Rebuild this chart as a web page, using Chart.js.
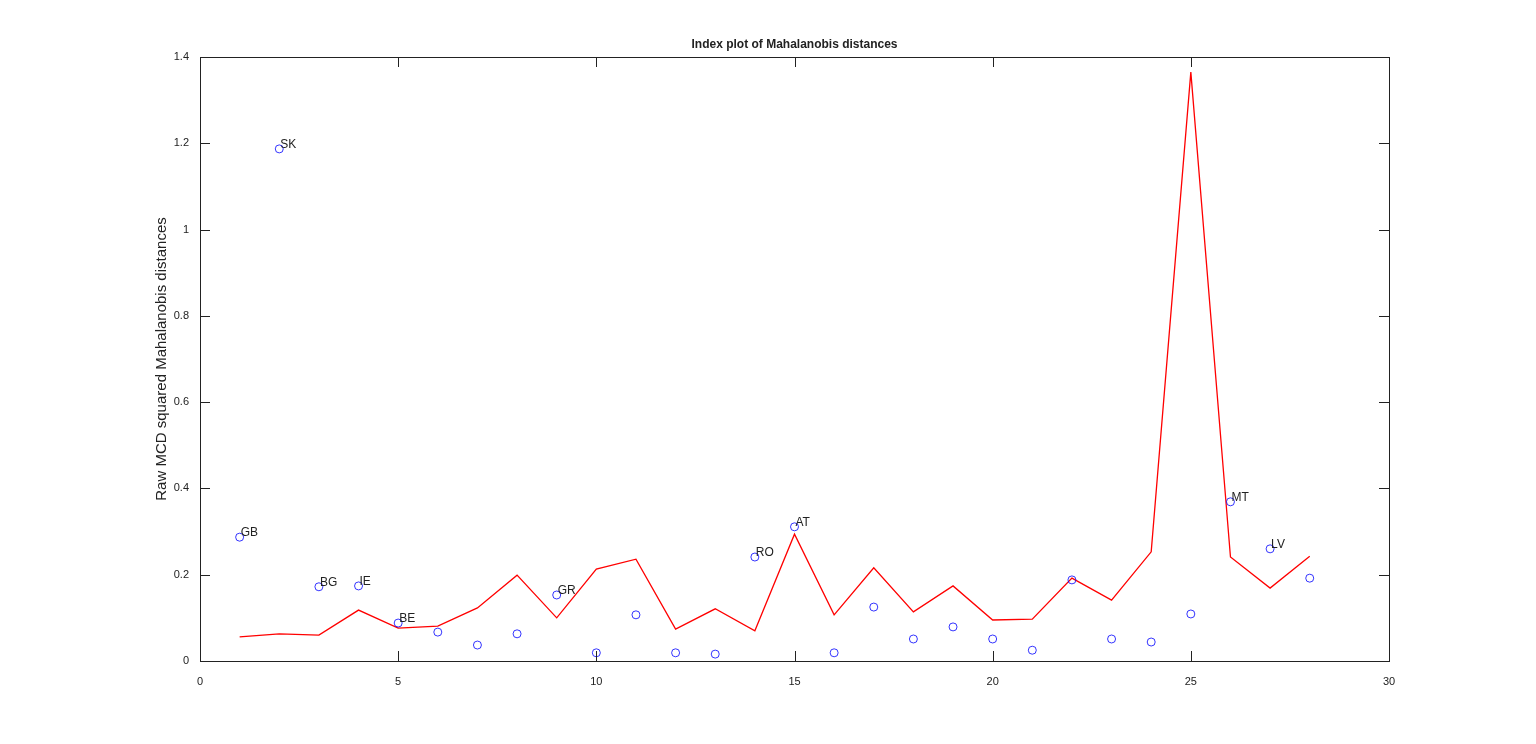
<!DOCTYPE html>
<html>
<head>
<meta charset="utf-8">
<script src="https://cdn.jsdelivr.net/npm/chart.js@4/dist/chart.umd.min.js"></script>
<style>
  html, body { margin: 0; padding: 0; background: #fff; }
  #wrap { width: 1536px; height: 744px; }
</style>
</head>
<body>
<div id="wrap"><canvas id="c"></canvas></div>
<script>
// raw MCD squared distances (blue circles), one per unit
const rawDist = [0.287, 1.187, 0.172, 0.174, 0.088, 0.067, 0.037, 0.063, 0.153, 0.019,
  0.107, 0.019, 0.016, 0.241, 0.311, 0.019, 0.125, 0.051, 0.079, 0.051,
  0.025, 0.188, 0.051, 0.044, 0.109, 0.369, 0.260, 0.192];
// red line
const lineDist = [0.056, 0.063, 0.060, 0.118, 0.076, 0.081, 0.123, 0.199, 0.100, 0.213,
  0.236, 0.074, 0.121, 0.070, 0.294, 0.107, 0.216, 0.114, 0.174, 0.095,
  0.097, 0.192, 0.141, 0.253, 1.365, 0.241, 0.169, 0.243];
// labelled points: index -> label
const pointLabels = { 1: 'GB', 2: 'SK', 3: 'BG', 4: 'IE', 5: 'BE', 9: 'GR', 14: 'RO', 15: 'AT', 26: 'MT', 27: 'LV' };
const xTicks = [0, 5, 10, 15, 20, 25, 30];
const yTicks = [0, 0.2, 0.4, 0.6, 0.8, 1, 1.2, 1.4];

const rawPts = rawDist.map((v, i) => ({ x: i + 1, y: v }));
const linePts = lineDist.map((v, i) => ({ x: i + 1, y: v }));

const FONT = 'Liberation Sans, Arial, sans-serif';

const decor = {
  id: 'decor',
  afterDraw(chart) {
    const ctx = chart.ctx, a = chart.chartArea;
    const xs = chart.scales.x, ys = chart.scales.y;
    ctx.save();
    ctx.strokeStyle = '#222';
    ctx.lineWidth = 1;
    ctx.strokeRect(a.left + 0.5, a.top + 0.5, a.right - a.left, a.bottom - a.top);
    ctx.beginPath();
    xTicks.forEach(t => {
      const px = Math.round(xs.getPixelForValue(t)) + 0.5;
      ctx.moveTo(px, a.bottom); ctx.lineTo(px, a.bottom - 10);
      ctx.moveTo(px, a.top); ctx.lineTo(px, a.top + 10);
    });
    yTicks.forEach(t => {
      const py = Math.round(ys.getPixelForValue(t)) + 0.5;
      ctx.moveTo(a.left, py); ctx.lineTo(a.left + 10, py);
      ctx.moveTo(a.right, py); ctx.lineTo(a.right - 10, py);
    });
    ctx.stroke();
    // point labels
    ctx.fillStyle = '#222';
    ctx.font = '12px ' + FONT;
    ctx.textAlign = 'left';
    ctx.textBaseline = 'alphabetic';
    Object.keys(pointLabels).forEach(k => {
      const i = +k;
      const px = xs.getPixelForValue(i), py = ys.getPixelForValue(rawDist[i - 1]);
      ctx.fillText(pointLabels[k], px + 1, py - 1);
    });
    // title
    ctx.font = 'bold 12px ' + FONT;
    ctx.textAlign = 'center';
    ctx.fillText('Index plot of Mahalanobis distances', (a.left + a.right) / 2, 48);
    // y title
    ctx.font = '15px ' + FONT;
    ctx.translate(166, (a.top + a.bottom) / 2);
    ctx.rotate(-Math.PI / 2);
    ctx.fillText('Raw MCD squared Mahalanobis distances', 0, 0);
    ctx.restore();
  }
};

new Chart(document.getElementById('c'), {
  type: 'scatter',
  data: {
    datasets: [
      { data: linePts, showLine: true, borderColor: '#ff0000', backgroundColor: '#ff0000',
        borderWidth: 1.3, pointRadius: 0, tension: 0, order: 2 },
      { data: rawPts, showLine: false, borderColor: '#0000ff', backgroundColor: 'rgba(0,0,0,0)',
        borderWidth: 0.8, pointRadius: 4, order: 1 }
    ]
  },
  options: {
    responsive: true,
    maintainAspectRatio: false,
    animation: false,
    layout: { padding: { top: 57, right: 147, left: 0, bottom: 0 } },
    plugins: { legend: { display: false }, tooltip: { enabled: false } },
    scales: {
      x: {
        type: 'linear', min: 0, max: 30,
        afterFit: s => { s.height = 83; },
        afterBuildTicks: s => { s.ticks = xTicks.map(v => ({ value: v })); },
        grid: { display: false },
        border: { display: false },
        ticks: { color: '#222', font: { size: 11, family: FONT }, padding: 6 }
      },
      y: {
        min: 0, max: 1.4,
        afterFit: s => { s.width = 200; },
        afterBuildTicks: s => { s.ticks = yTicks.map(v => ({ value: v })); },
        grid: { display: false },
        border: { display: false },
        ticks: { color: '#222', font: { size: 11, family: FONT }, padding: 3,
          callback: v => String(+v.toFixed(1)) }
      }
    }
  },
  plugins: [decor]
});
</script>
</body>
</html>
